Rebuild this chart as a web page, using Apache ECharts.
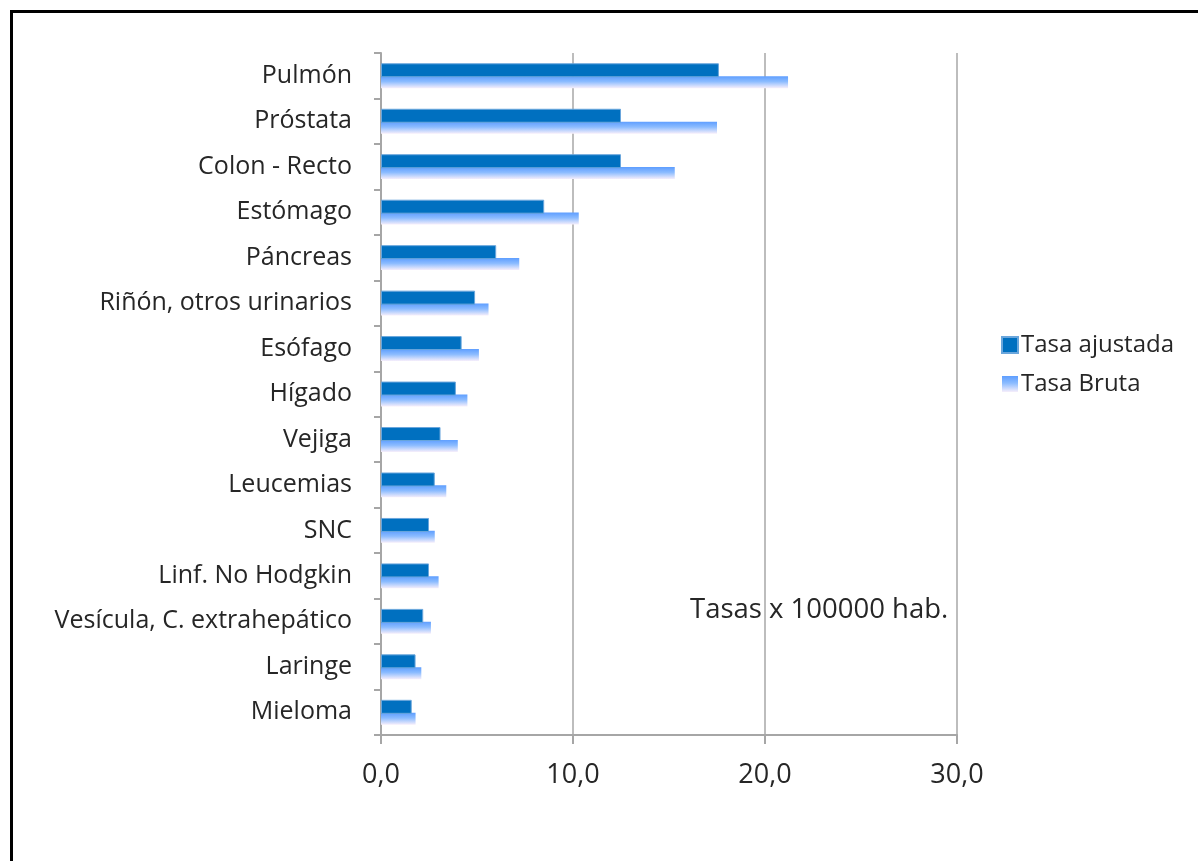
<!DOCTYPE html>
<html>
<head>
<meta charset="utf-8">
<script src="https://cdn.jsdelivr.net/npm/echarts@6/dist/echarts.min.js"></script>
<style>
  html, body { margin: 0; padding: 0; background: #fff; }
  #chart { width: 1198px; height: 861px; }
</style>
</head>
<body>
<div id="chart"></div>
<script>
// Cancer sites, top to bottom
const categories = [
  'Pulmón', 'Próstata', 'Colon - Recto', 'Estómago', 'Páncreas',
  'Riñón, otros urinarios', 'Esófago', 'Hígado', 'Vejiga', 'Leucemias',
  'SNC', 'Linf. No Hodgkin', 'Vesícula, C. extrahepático', 'Laringe', 'Mieloma'
];
// Rates per 100000 inhabitants
const tasaAjustada = [17.6, 12.5, 12.5, 8.5, 6.0, 4.9, 4.2, 3.9, 3.1, 2.8, 2.5, 2.5, 2.2, 1.8, 1.6];
const tasaBruta    = [21.2, 17.5, 15.3, 10.3, 7.2, 5.6, 5.1, 4.5, 4.0, 3.4, 2.8, 3.0, 2.6, 2.1, 1.8];
const xTicks = [0, 10, 20, 30];
const seriesNames = ['Tasa ajustada', 'Tasa Bruta'];
const noteText = 'Tasas x 100000 hab.';

const FONT = '"Open Sans", sans-serif';
const TEXT = '#262626';

const chart = echarts.init(document.getElementById('chart'), null, { renderer: 'canvas' });

const brutaFill = new echarts.graphic.LinearGradient(0, 0, 0, 1, [
  { offset: 0, color: '#5e9eff' },
  { offset: 0.45, color: '#8cbcff' },
  { offset: 1, color: '#f6eefb' }
]);

chart.setOption({
  backgroundColor: '#ffffff',
  animation: false,
  grid: { left: 381, right: 241, top: 53, bottom: 126, containLabel: false },
  legend: {
    orient: 'vertical',
    left: 996,
    top: 328,
    itemWidth: 16,
    itemHeight: 16,
    itemGap: 15,
    icon: 'rect',
    textStyle: { fontFamily: FONT, fontSize: 24, color: TEXT, padding: [0, 0, 0, -2] },
    data: seriesNames
  },
  xAxis: {
    type: 'value',
    min: xTicks[0],
    max: xTicks[xTicks.length - 1],
    interval: 10,
    axisLine: { show: true, lineStyle: { color: '#a6a6a6', width: 2 } },
    axisTick: { show: true, length: 9, lineStyle: { color: '#a6a6a6', width: 2 } },
    splitLine: { show: true, lineStyle: { color: '#bdbdbd', width: 2 } },
    axisLabel: {
      fontFamily: FONT, fontSize: 27, color: TEXT, margin: 27,
      formatter: v => v.toFixed(1).replace('.', ',')
    }
  },
  yAxis: {
    type: 'category',
    inverse: true,
    data: categories,
    axisLine: { show: true, lineStyle: { color: '#a6a6a6', width: 2 } },
    axisTick: { show: true, length: 7, lineStyle: { color: '#a6a6a6', width: 2 } },
    axisLabel: { fontFamily: FONT, fontSize: 25, color: TEXT, margin: 29, padding: [15, 0, 0, 0] }
  },
  series: [
    {
      name: seriesNames[0],
      type: 'bar',
      data: tasaAjustada,
      barWidth: 14,
      barGap: '-8%',
      itemStyle: { color: '#0070c0', borderColor: '#6aa6dc', borderWidth: 1 },
      z: 3
    },
    {
      name: seriesNames[1],
      type: 'bar',
      data: tasaBruta,
      barWidth: 12,
      itemStyle: { color: brutaFill },
      z: 2
    }
  ],
  graphic: [
    {
      type: 'rect',
      shape: { x: 11.5, y: 11.5, width: 1300, height: 1000 },
      style: { fill: 'none', stroke: '#000', lineWidth: 3 },
      silent: true
    },
    {
      type: 'text',
      left: 690,
      top: 596,
      style: { text: noteText, fontFamily: FONT, fontSize: 27.5, fill: TEXT }
    }
  ]
});
</script>
</body>
</html>
